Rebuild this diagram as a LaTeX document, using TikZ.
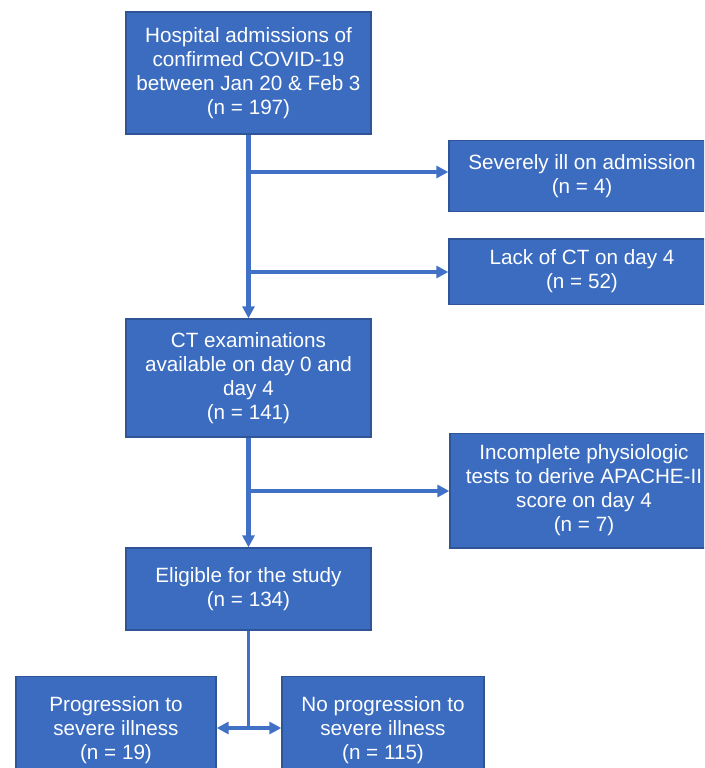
\documentclass[tikz,border=0pt]{standalone}
\usepackage{fontspec}
\setmainfont{Liberation Sans}
\usepackage{xcolor}
\usetikzlibrary{arrows.meta,positioning}
\definecolor{boxblue}{HTML}{3B6CC0}
\definecolor{edgeblue}{HTML}{2F5597}
\definecolor{lineblue}{HTML}{4171C6}
\tikzset{
  box/.style={rectangle,draw=edgeblue,line width=1pt,fill=boxblue,text=white,
    align=center,inner sep=0pt,font=\fontsize{15.5}{18}\selectfont},
  arrow/.style={-{Triangle[length=9pt,width=9pt]},line width=3.2pt,draw=lineblue},
  stem/.style={line width=1.6pt,draw=lineblue}
}

\begin{document}
\begin{tikzpicture}[x=0.75pt,y=-0.75pt]
\useasboundingbox (0,0) rectangle (704,768);
\clip (0,0) rectangle (704,768);
\node[box,minimum width=183.75pt,minimum height=91.5pt] (adm) at (248.5,73)
  {Hospital admissions of\\confirmed COVID-19\\between Jan 20 \& Feb 3\\(n = 197)};
\node[box,minimum width=199.5pt,minimum height=53pt] (sev) at (582,176)
  {Severely ill on admission\\(n = 4)};
\node[box,minimum width=199.5pt,minimum height=49pt] (lack) at (582,271.5)
  {Lack of CT on day 4\\(n = 52)};
\node[box,minimum width=183.75pt,minimum height=88.5pt] (ct) at (248.5,378)
  {CT examinations\\available on day 0 and\\day 4\\(n = 141)};
\node[box,minimum width=201pt,minimum height=86pt] (inc) at (584,490.5)
  {Incomplete physiologic\\tests to derive APACHE-II\\score on day 4\\(n = 7)};
\node[box,minimum width=183.75pt,minimum height=61.5pt] (elig) at (248.5,589)
  {Eligible for the study\\(n = 134)};
\node[box,minimum width=150pt,minimum height=80pt] (prog) at (116,730)
  {Progression to\\severe illness\\(n = 19)};
\node[box,minimum width=151.5pt,minimum height=80pt] (noprog) at (383,730)
  {No progression to\\severe illness\\(n = 115)};
% junctions on the trunk
\coordinate (j1) at (248.5,172);
\coordinate (j2) at (248.5,272);
\coordinate (j3) at (248.5,491);
\coordinate (split) at (248.5,728);
\draw[arrow] (adm) -- (ct); \draw[arrow] (ct) -- (elig);
\draw[arrow] (j1) -- (j1 -| sev.west);
\draw[arrow] (j2) -- (j2 -| lack.west);
\draw[arrow] (j3) -- (j3 -| inc.west);
\draw[stem] (elig) -- (split);
\draw[arrow] (split) -- (split -| prog.east);
\draw[arrow] (split) -- (split -| noprog.west);
\end{tikzpicture}
\end{document}
